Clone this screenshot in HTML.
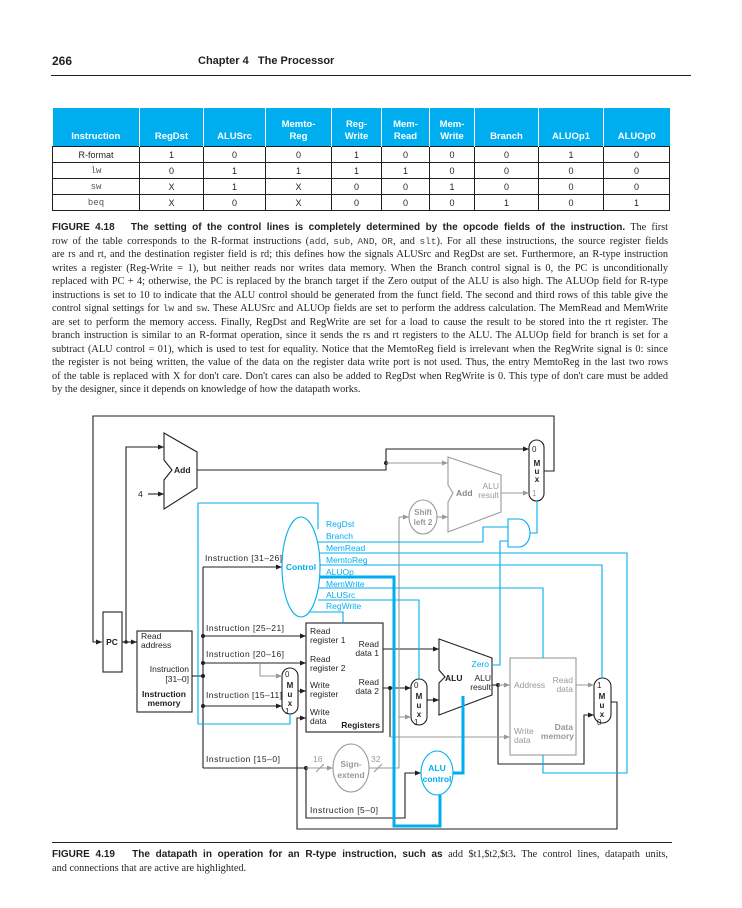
<!DOCTYPE html>
<html><head><meta charset="utf-8">
<style>
body{margin:0;width:742px;height:908px;background:#fff;position:relative;overflow:hidden;font-family:"Liberation Sans",sans-serif;color:#231f20}
.abs{position:absolute}
.hd{font-weight:bold;font-size:12px}
table{border-collapse:collapse;position:absolute;left:52px;top:108px;width:617px;table-layout:fixed;font-size:9px}
th{background:#00aeef;color:#fff;font-weight:bold;height:35px;vertical-align:bottom;padding:0 0 3px;border-left:1.5px solid #fff;font-size:9.5px;line-height:12px}
th:first-child{border-left:none}
td{border:1px solid #231f20;text-align:center;height:15px;padding:0;line-height:14px}
td.m{font-family:"Liberation Mono",monospace;color:#555}
.cap{position:absolute;left:52px;width:616px;font-family:"Liberation Serif",serif;font-size:10.3px;line-height:13.5px}
.cap div{text-align:justify;text-align-last:justify;white-space:nowrap;overflow:visible}
.cap div.l{text-align-last:left}
.cap b{font-family:"Liberation Sans",sans-serif;font-size:10px}
.cap code{font-family:"Liberation Mono",monospace;font-size:9.5px;color:#444}
</style></head><body>
<div class="abs hd" style="left:52px;top:54px">266</div>
<div class="abs hd" style="left:198px;top:55px;font-size:11px">Chapter 4&nbsp;&nbsp;&nbsp;The Processor</div>
<div class="abs" style="left:51px;top:75px;width:640px;height:1px;background:#231f20"></div>

<table>
<colgroup><col style="width:87px"><col style="width:64px"><col style="width:62px"><col style="width:66px"><col style="width:50px"><col style="width:48px"><col style="width:45px"><col style="width:64px"><col style="width:65px"><col style="width:66px"></colgroup>
<tr><th>Instruction</th><th>RegDst</th><th>ALUSrc</th><th>Memto-<br>Reg</th><th>Reg-<br>Write</th><th>Mem-<br>Read</th><th>Mem-<br>Write</th><th>Branch</th><th>ALUOp1</th><th>ALUOp0</th></tr>
<tr><td>R-format</td><td>1</td><td>0</td><td>0</td><td>1</td><td>0</td><td>0</td><td>0</td><td>1</td><td>0</td></tr>
<tr><td class="m">lw</td><td>0</td><td>1</td><td>1</td><td>1</td><td>1</td><td>0</td><td>0</td><td>0</td><td>0</td></tr>
<tr><td class="m">sw</td><td>X</td><td>1</td><td>X</td><td>0</td><td>0</td><td>1</td><td>0</td><td>0</td><td>0</td></tr>
<tr><td class="m">beq</td><td>X</td><td>0</td><td>X</td><td>0</td><td>0</td><td>0</td><td>1</td><td>0</td><td>1</td></tr>
</table>

<div class="cap" style="top:221px">
<div><b>FIGURE 4.18&nbsp;&nbsp;&nbsp;The setting of the control lines is completely determined by the opcode fields of the instruction.</b> The first</div>
<div>row of the table corresponds to the R-format instructions (<code>add</code>, <code>sub</code>, <code>AND</code>, <code>OR</code>, and <code>slt</code>). For all these instructions, the source register fields</div>
<div>are rs and rt, and the destination register field is rd; this defines how the signals ALUSrc and RegDst are set. Furthermore, an R-type instruction</div>
<div>writes a register (Reg-Write = 1), but neither reads nor writes data memory. When the Branch control signal is 0, the PC is unconditionally</div>
<div>replaced with PC + 4; otherwise, the PC is replaced by the branch target if the Zero output of the ALU is also high. The ALUOp field for R-type</div>
<div>instructions is set to 10 to indicate that the ALU control should be generated from the funct field. The second and third rows of this table give the</div>
<div>control signal settings for <code>lw</code> and <code>sw</code>. These ALUSrc and ALUOp fields are set to perform the address calculation. The MemRead and MemWrite</div>
<div>are set to perform the memory access. Finally, RegDst and RegWrite are set for a load to cause the result to be stored into the rt register. The</div>
<div>branch instruction is similar to an R-format operation, since it sends the rs and rt registers to the ALU. The ALUOp field for branch is set for a</div>
<div>subtract (ALU control = 01), which is used to test for equality. Notice that the MemtoReg field is irrelevant when the RegWrite signal is 0: since</div>
<div>the register is not being written, the value of the data on the register data write port is not used. Thus, the entry MemtoReg in the last two rows</div>
<div>of the table is replaced with X for don't care. Don't cares can also be added to RegDst when RegWrite is 0. This type of don't care must be added</div>
<div class="l">by the designer, since it depends on knowledge of how the datapath works.</div>
</div>

<svg class="abs" style="left:0;top:0" width="742" height="908" viewBox="0 0 742 908" font-family="Liberation Sans, sans-serif" font-size="8.5">
<defs>
<marker id="ak" markerWidth="6" markerHeight="6" refX="6" refY="3" orient="auto" markerUnits="userSpaceOnUse"><path d="M0,0.5 L6,3 L0,5.5Z" fill="#231f20"/></marker>
<marker id="ag" markerWidth="6" markerHeight="6" refX="6" refY="3" orient="auto" markerUnits="userSpaceOnUse"><path d="M0,0.5 L6,3 L0,5.5Z" fill="#999"/></marker>
</defs>
<g fill="none" stroke="#231f20" stroke-width="1.1">
<polyline points="544,471 554,471 554,416 93,416 93,642 102,642" marker-end="url(#ak)"/>
<rect x="103" y="612" width="19" height="60"/>
<line x1="122" y1="642" x2="137" y2="642" marker-end="url(#ak)"/>
<polyline points="126,642 126,447 164,447" marker-end="url(#ak)"/>
<path d="M164,433 L197,452 L197,488 L164,509 L164,480 L172,470 L164,460 Z"/>
<line x1="148" y1="494" x2="164" y2="494" marker-end="url(#ak)"/>
<polyline points="197,470 386,470 386,449 529,449" marker-end="url(#ak)"/>
<rect x="529" y="440" width="15" height="61" rx="7.5"/>
<rect x="137" y="631" width="55" height="81"/>
<line x1="192" y1="676" x2="203" y2="676"/>
<line x1="203" y1="567" x2="203" y2="768"/>
<line x1="203" y1="567" x2="282" y2="567" marker-end="url(#ak)"/>
<line x1="203" y1="636" x2="306" y2="636" marker-end="url(#ak)"/>
<line x1="203" y1="663" x2="306" y2="663" marker-end="url(#ak)"/>
<line x1="203" y1="706" x2="282" y2="706" marker-end="url(#ak)"/>
<line x1="203" y1="768" x2="306" y2="768"/>
<rect x="282" y="668" width="16" height="46" rx="8"/>
<line x1="298" y1="691" x2="306" y2="691" marker-end="url(#ak)"/>
<rect x="306" y="623" width="77" height="109"/>
<polyline points="611,702 617,702 617,829 297,829 297,718 306,718" marker-end="url(#ak)"/>
<polyline points="306,768 306,818 405,818 405,773 421,773" marker-end="url(#ak)"/>
<line x1="383" y1="649" x2="439" y2="649" marker-end="url(#ak)"/>
<line x1="383" y1="688" x2="411" y2="688" marker-end="url(#ak)"/>
<line x1="390" y1="688" x2="390" y2="737"/>
<rect x="411" y="679" width="16" height="46" rx="8"/>
<line x1="427" y1="700" x2="439" y2="700" marker-end="url(#ak)"/>
<path d="M439,639 L492,658 L492,695 L439,715 L439,683 L445,677 L439,670 Z"/>
<line x1="492" y1="685" x2="498" y2="685"/>
<polyline points="498,685 498,764 584,764 584,715 594,715" marker-end="url(#ak)"/>
<rect x="594" y="678" width="17" height="45" rx="8.5"/>
</g>
<g fill="#231f20">
<circle cx="386" cy="463" r="2"/><circle cx="126" cy="642" r="1.8"/>
<circle cx="203" cy="636" r="2"/><circle cx="203" cy="663" r="2"/><circle cx="203" cy="676" r="2"/><circle cx="203" cy="706" r="2"/>
<circle cx="306" cy="768" r="2"/><circle cx="390" cy="688" r="2"/><circle cx="498" cy="685" r="2"/>
</g>
<g fill="none" stroke="#999" stroke-width="1.1">
<line x1="386" y1="463" x2="448" y2="463" marker-end="url(#ag)"/>
<path d="M448,457 L501,475 L501,512 L448,532 L448,502 L453,493 L448,485 Z"/>
<line x1="501" y1="493" x2="529" y2="493" marker-end="url(#ag)"/>
<ellipse cx="423" cy="517" rx="14" ry="17"/>
<line x1="399" y1="517" x2="409" y2="517" marker-end="url(#ag)"/>
<line x1="437" y1="517" x2="448" y2="517" marker-end="url(#ag)"/>
<polyline points="260,663 260,676 282,676" marker-end="url(#ag)"/>
<line x1="306" y1="768" x2="333" y2="768" marker-end="url(#ag)"/>
<ellipse cx="351" cy="768" rx="18" ry="24"/>
<polyline points="369,768 399,768 399,517"/>
<line x1="399" y1="717" x2="411" y2="717" marker-end="url(#ag)"/>
<line x1="390" y1="737" x2="510" y2="737" marker-end="url(#ag)"/>
<line x1="498" y1="685" x2="510" y2="685" marker-end="url(#ag)"/>
<rect x="510" y="658" width="66" height="97"/>
<line x1="576" y1="685" x2="594" y2="685" marker-end="url(#ag)"/>
<line x1="316" y1="772" x2="324" y2="764"/><line x1="374" y1="772" x2="382" y2="764"/>
</g>
<g fill="none" stroke="#00aeef" stroke-width="1.1">
<ellipse cx="301" cy="567" rx="19" ry="50"/>
<polyline points="318,529 318,503 198,503 198,724 290,724 290,714"/>
<polyline points="317,542 483,542 483,527 508,527"/>
<polyline points="319,553 627,553 627,773 543,773 543,755"/>
<polyline points="320,565 602,565 602,678"/>
<polyline points="319,588 543,588 543,658"/>
<polyline points="318,600 419,600 419,679"/>
<polyline points="310,612 343,612 343,623"/>
<polyline points="492,665 500,665 500,541 508,541"/>
<path d="M508,519 L519,519 A11,14 0 0 1 519,547 L508,547 Z"/>
<polyline points="530,533 537,533 537,501"/>
<ellipse cx="437" cy="773" rx="16" ry="22"/>
<polyline points="320,577 394,577 394,826 440,826 440,795" stroke-width="3"/>
<polyline points="453,773 463,773 463,696" stroke-width="3"/>
</g>
<g fill="#231f20">
<text x="112" y="645" font-weight="bold" text-anchor="middle">PC</text>
<text x="174" y="473" font-weight="bold">Add</text>
<text x="138" y="497">4</text>
<text x="141" y="639">Read</text><text x="141" y="648">address</text>
<text x="189" y="672" text-anchor="end">Instruction</text><text x="189" y="682" text-anchor="end">[31–0]</text>
<text x="164" y="697" text-anchor="middle" font-weight="bold">Instruction</text><text x="164" y="706" text-anchor="middle" font-weight="bold">memory</text>
<text x="205" y="561" textLength="77">Instruction [31–26]</text>
<text x="206" y="631" textLength="78">Instruction [25–21]</text>
<text x="206" y="657" textLength="78">Instruction [20–16]</text>
<text x="206" y="698" textLength="76">Instruction [15–11]</text>
<text x="206" y="762" textLength="74">Instruction [15–0]</text>
<text x="310" y="813" textLength="68">Instruction [5–0]</text>
<text x="310" y="634">Read</text><text x="310" y="643">register 1</text>
<text x="379" y="647" text-anchor="end">Read</text><text x="379" y="656" text-anchor="end">data 1</text>
<text x="310" y="662">Read</text><text x="310" y="671">register 2</text>
<text x="310" y="688">Write</text><text x="310" y="697">register</text>
<text x="379" y="685" text-anchor="end">Read</text><text x="379" y="694" text-anchor="end">data 2</text>
<text x="310" y="715">Write</text><text x="310" y="724">data</text>
<text x="380" y="728" text-anchor="end" font-weight="bold">Registers</text>
<text x="445" y="681" font-weight="bold">ALU</text>
<text x="491" y="681" text-anchor="end">ALU</text><text x="491" y="690" text-anchor="end">result</text>
<g font-size="8"><text x="285" y="677">0</text><text x="290" y="688" font-weight="bold" text-anchor="middle">M</text><text x="290" y="697" font-weight="bold" text-anchor="middle">u</text><text x="290" y="706" font-weight="bold" text-anchor="middle">x</text><text x="285" y="714">1</text>
<text x="414" y="688">0</text><text x="419" y="699" font-weight="bold" text-anchor="middle">M</text><text x="419" y="708" font-weight="bold" text-anchor="middle">u</text><text x="419" y="717" font-weight="bold" text-anchor="middle">x</text><text x="414" y="725">1</text>
<text x="597" y="688">1</text><text x="602" y="699" font-weight="bold" text-anchor="middle">M</text><text x="602" y="708" font-weight="bold" text-anchor="middle">u</text><text x="602" y="717" font-weight="bold" text-anchor="middle">x</text><text x="597" y="725">0</text>
<text x="532" y="452">0</text><text x="537" y="466" font-weight="bold" text-anchor="middle">M</text><text x="537" y="474" font-weight="bold" text-anchor="middle">u</text><text x="537" y="482" font-weight="bold" text-anchor="middle">x</text></g>
</g>
<g fill="#999">
<text x="532" y="496" font-size="8">1</text>
<text x="456" y="496" font-weight="bold" fill="#888">Add</text>
<text x="499" y="489" text-anchor="end">ALU</text><text x="499" y="498" text-anchor="end">result</text>
<text x="423" y="515" text-anchor="middle" font-weight="bold" font-size="8">Shift</text><text x="423" y="525" text-anchor="middle" font-weight="bold" font-size="8">left 2</text>
<text x="351" y="767" text-anchor="middle" font-weight="bold">Sign-</text><text x="351" y="778" text-anchor="middle" font-weight="bold">extend</text>
<text x="313" y="762">16</text><text x="371" y="762">32</text>
<text x="514" y="688">Address</text>
<text x="573" y="683" text-anchor="end">Read</text><text x="573" y="692" text-anchor="end">data</text>
<text x="514" y="734">Write</text><text x="514" y="743">data</text>
<text x="573" y="730" text-anchor="end" font-weight="bold">Data</text><text x="574" y="739" text-anchor="end" font-weight="bold">memory</text>
</g>
<g fill="#00aeef">
<text x="301" y="570" text-anchor="middle" font-weight="bold">Control</text>
<text x="326" y="527">RegDst</text><text x="326" y="539">Branch</text><text x="326" y="551">MemRead</text><text x="326" y="563">MemtoReg</text><text x="326" y="575">ALUOp</text><text x="326" y="587">MemWrite</text><text x="326" y="598">ALUSrc</text><text x="326" y="609">RegWrite</text>
<text x="489" y="667" text-anchor="end">Zero</text>
<text x="437" y="771" text-anchor="middle" font-weight="bold">ALU</text><text x="437" y="782" text-anchor="middle" font-weight="bold">control</text>
</g>
</svg>

<div class="abs" style="left:52px;top:842px;width:620px;height:1px;background:#231f20"></div>
<div class="cap" style="top:848px">
<div><b>FIGURE 4.19&nbsp;&nbsp;&nbsp;The datapath in operation for an R-type instruction, such as</b> add $t1,$t2,$t3<b>.</b> The control lines, datapath units,</div>
<div class="l">and connections that are active are highlighted.</div>
</div>
</body></html>
